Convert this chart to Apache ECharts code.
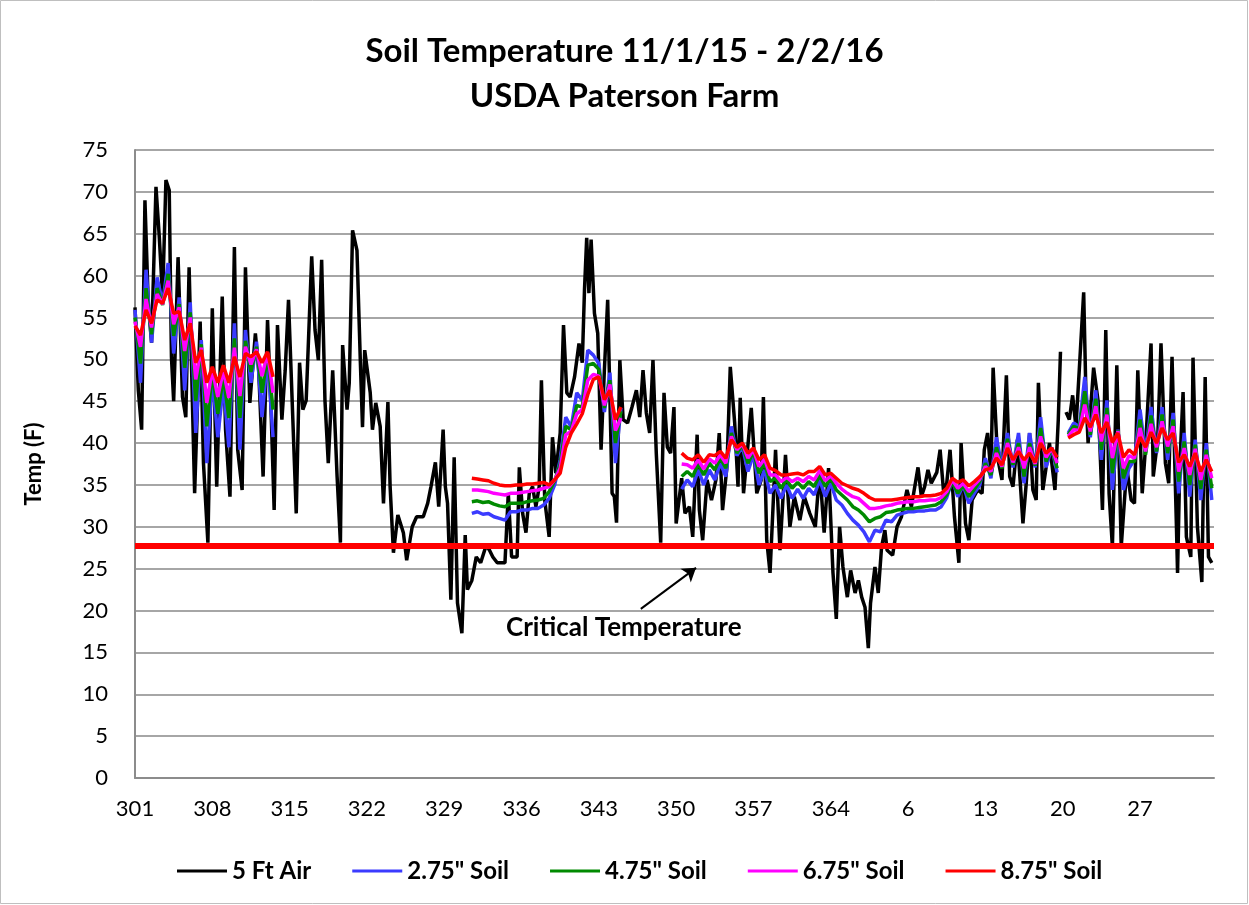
<!DOCTYPE html>
<html>
<head>
<meta charset="utf-8">
<script src="https://cdn.jsdelivr.net/npm/echarts@6/dist/echarts.min.js"></script>
<style>
  html, body { margin: 0; padding: 0; background: #fff; }
  #soil-chart { width: 1249px; height: 905px; }
</style>
</head>
<body>
<div id="soil-chart"></div>
<script>
// x values are days after day-of-year 301 (the axis wraps at 365)
const FIRST_DAY = 301;
const CRITICAL = 27.7;

const seriesNames = ['5 Ft Air', '2.75" Soil', '4.75" Soil', '6.75" Soil', '8.75" Soil'];
const seriesColors = ['#000000', '#3b3bff', '#008a00', '#ff00ff', '#ff0000'];

// 5 ft air temperature (null = logger gap)
const airDay = [
  0, 0.3, 0.6, 0.9, 1.2, 1.5, 1.9, 2.2, 2.5, 2.8, 3.1, 3.3, 3.5, 3.9, 4.3, 4.6, 4.9, 5.4, 5.9, 6.2,
  6.6, 7.0, 7.4, 7.9, 8.2, 8.6, 9.0, 9.3, 9.7, 10.0, 10.4, 10.9, 11.2, 11.6, 12.0, 12.3, 12.6, 12.9, 13.3, 13.6,
  13.9, 14.6, 14.9, 15.2, 15.5, 16.0, 16.3, 16.6, 16.9, 17.2, 17.5, 17.9, 18.3, 18.6, 18.8, 19.2, 19.4, 19.7, 20.1, 20.4,
  20.6, 20.8, 21.3, 21.5, 21.8, 22.2, 22.5, 22.9, 23.1, 23.4, 23.8, 24.3, 24.6, 25.1, 25.5, 26.1, 26.5, 26.8, 27.2, 27.5,
  27.9, 28.1, 28.3, 28.6, 28.9, 29.2, 29.6, 29.9, 30.1, 30.5, 30.9, 31.3, 31.8, 32.1, 32.4, 32.8, 33.5, 33.8, 34.1, 34.6,
  34.8, 35.1, 35.4, 35.7, 36.0, 36.3, 36.6, 36.8, 37.1, 37.5, 37.8, 38.1, 38.5, 38.8, 39.1, 39.4, 39.8, 40.2, 40.5, 40.7,
  40.9, 41.1, 41.3, 41.6, 41.9, 42.2, 42.5, 42.8, 43.2, 43.4, 43.6, 43.9, 44.2, 44.6, 45.0, 45.4, 45.7, 46.0, 46.3, 46.6,
  46.9, 47.2, 47.6, 47.9, 48.2, 48.5, 48.8, 49.0, 49.5, 49.8, 50.2, 50.5, 50.9, 51.1, 51.4, 51.8, 52.2, 52.6, 52.9, 53.2,
  53.6, 53.9, 54.3, 54.6, 54.8, 55.1, 55.4, 55.8, 56.3, 56.7, 56.9, 57.2, 57.5, 57.8, 58.0, 58.4, 58.9, 59.3, 59.7, 60.2,
  60.6, 61.1, 61.6, 62.0, 62.4, 62.8, 63.2, 63.5, 63.8, 64.1, 64.5, 64.8, 65.2, 65.5, 65.8, 66.1, 66.4, 66.6, 67.0, 67.3,
  67.6, 67.9, 68.1, 68.6, 69.0, 69.4, 69.9, 70.3, 70.9, 71.2, 71.5, 71.8, 72.1, 72.6, 72.9, 73.2, 73.5, 73.8, 74.2, 74.6,
  74.8, 75.2, 75.5, 75.8, 76.3, 76.7, 76.9, 77.2, 77.5, 77.7, 78.1, 78.5, 78.9, 79.2, 79.5, 79.9, 80.4, 80.7, 81.0, 81.3,
  81.6, 81.8, 82.2, 82.5, 82.8, 83.3, 83.6, 83.8, 84.0, 84.3, 84.6, 84.9, 85.2, 85.5, 85.9, 86.1, 86.3, 86.8, 87.2, 87.6,
  87.9, 88.2, 88.5, 88.9, 89.3, 89.8, 90.2, 90.5, 90.8, 91.2, 91.5, 92.0, 92.2, 92.6, 92.9, 93.3, 93.6, 93.9, 94.3, 94.4,
  94.6, 94.9, 95.2, 95.6, 95.8, 96.2, 96.6, 96.9, 97.2, 97.5
];
const airTemp = [
  56.2, 46.3, 41.6, 69.0, 56.7, 52.0, 70.6, 64.6, 57.4, 71.4, 70.2, 50.3, 45.0, 62.2, 45.5, 43.1, 61.0, 34.0, 54.5, 37.6,
  28.1, 56.1, 34.8, 57.5, 41.6, 33.6, 63.4, 39.2, 34.4, 61.0, 44.8, 53.1, 48.7, 36.0, 54.7, 44.8, 32.0, 54.1, 42.8, 48.7,
  57.1, 31.6, 49.6, 44.0, 45.1, 62.3, 53.5, 49.9, 61.9, 45.1, 37.6, 48.7, 36.0, 28.1, 51.7, 44.0, 47.2, 65.4, 63.0, 49.9,
  41.9, 51.1, 46.0, 41.6, 44.8, 42.0, 32.8, 44.9, 34.8, 26.9, 31.4, 29.3, 26.0, 30.0, 31.2, 31.2, 32.8, 34.8, 37.7, 32.4,
  41.6, 34.8, 32.8, 21.3, 38.3, 20.9, 17.3, 29.0, 22.5, 23.6, 26.4, 25.7, 27.8, 27.2, 26.4, 25.7, 25.7, 34.0, 26.4, 26.4,
  37.1, 31.6, 29.3, 34.0, 34.8, 32.4, 34.8, 47.5, 33.2, 28.8, 40.7, 36.4, 41.2, 54.1, 46.0, 45.5, 47.9, 51.9, 49.6, 58.3,
  64.5, 57.9, 64.3, 55.5, 53.1, 39.2, 48.7, 57.1, 34.0, 33.6, 30.5, 49.9, 42.8, 42.4, 44.3, 46.3, 43.1, 48.7, 43.6, 41.2,
  49.9, 38.8, 28.1, 46.0, 39.5, 38.8, 44.3, 30.4, 35.8, 31.6, 32.4, 28.8, 41.0, 32.0, 28.4, 35.6, 33.2, 35.6, 41.2, 32.0,
  37.2, 49.1, 42.4, 34.8, 45.4, 34.0, 38.3, 44.2, 34.0, 35.6, 45.5, 28.4, 24.5, 33.2, 39.2, 27.2, 38.6, 30.0, 33.6, 30.8,
  33.6, 31.6, 30.0, 36.8, 29.3, 37.0, 24.5, 19.0, 30.0, 25.2, 21.6, 24.8, 22.1, 23.6, 21.6, 20.4, 15.5, 20.9, 25.2, 22.1,
  27.6, 29.6, 27.2, 26.6, 30.0, 31.2, 34.4, 32.4, 37.1, 33.6, 34.8, 36.8, 35.2, 36.5, 39.2, 34.4, 35.2, 39.2, 31.2, 25.7,
  40.0, 30.4, 28.4, 33.2, 34.4, 34.0, 39.2, 41.2, 36.4, 49.0, 38.3, 35.6, 48.1, 36.0, 34.8, 40.4, 30.4, 35.2, 41.2, 34.4,
  33.2, 47.2, 34.4, 37.1, 40.0, 34.4, 42.8, 50.9, null, 43.7, 42.8, 45.7, 41.9, 48.7, 58.0, 46.0, 40.0, 49.0, 45.1, 32.0,
  53.5, 34.0, 27.6, 49.3, 27.6, 37.1, 33.2, 32.8, 48.7, 34.0, 39.5, 51.9, 36.0, 40.4, 51.9, 37.6, 35.2, 50.3, 30.0, 24.5,
  37.1, 46.1, 28.8, 26.4, 50.2, 30.0, 23.4, 47.9, 26.4, 25.7
];

// soil probes log in four stretches; each stretch starts at soilStart[k], one value every SOIL_STEP days
const SOIL_STEP = 0.5;
const soilStart = [0, 30.5, 49.5, 84.5];

const soil275 = [
  [55.9, 47.2, 60.7, 52.0, 59.8, 56.7, 61.5, 50.7, 57.4, 46.3, 56.8, 41.2, 52.3, 37.6, 47.9, 40.7, 47.0, 39.5, 54.3, 39.2,
   53.5, 47.2, 52.1, 43.1, 50.3, 40.7],
  [31.6, 31.8, 31.5, 31.6, 31.2, 31.0, 30.8, 31.8, 31.8, 32.0, 32.0, 32.2, 32.2, 32.6, 33.4, 35.0, 38.0, 43.1, 41.9, 46.0,
   45.1, 51.1, 50.5, 49.5, 43.7, 48.4, 37.6, 44.2],
  [34.5, 35.6, 34.8, 36.8, 35.0, 36.8, 35.6, 37.6, 36.0, 42.0, 38.5, 39.6, 36.6, 38.6, 35.0, 36.8, 34.0, 35.0, 33.4, 35.0,
   33.4, 34.5, 33.4, 34.6, 33.8, 35.6, 33.6, 35.2, 33.2, 32.6, 31.6, 30.8, 30.2, 29.4, 28.2, 29.6, 29.4, 30.8, 30.6, 31.4,
   31.6, 31.8, 31.8, 31.9, 31.9, 32.0, 32.0, 32.4, 33.5, 35.6, 33.6, 35.0, 32.8, 34.0, 35.0, 38.2, 35.8, 40.7, 37.1, 41.2,
   37.1, 41.2, 35.2, 41.2, 37.1, 43.1, 37.1, 39.5, 36.5],
  [41.2, 42.4, 41.9, 47.9, 40.7, 46.3, 38.0, 45.1, 34.4, 41.6, 34.4, 37.0, 38.0, 44.0, 38.8, 44.3, 38.8, 44.3, 38.0, 43.6,
   34.0, 41.2, 33.6, 40.4, 33.2, 40.0, 33.2]
];
const soil475 = [
  [55.0, 49.5, 58.5, 53.0, 58.5, 56.5, 60.2, 52.8, 56.6, 49.0, 55.6, 45.0, 51.8, 42.0, 48.5, 43.5, 48.0, 43.0, 52.5, 43.0,
   52.2, 48.5, 51.5, 46.0, 50.6, 44.0],
  [33.0, 33.1, 32.9, 33.0, 32.7, 32.5, 32.4, 32.8, 32.8, 32.8, 33.0, 33.1, 33.2, 33.4, 34.2, 35.5, 37.5, 42.0, 41.6, 44.5,
   44.3, 49.3, 49.5, 48.8, 44.2, 47.5, 40.0, 43.8],
  [36.0, 36.6, 36.0, 37.5, 36.2, 37.6, 36.8, 38.2, 37.0, 41.2, 38.8, 39.8, 37.6, 39.0, 36.4, 37.6, 35.4, 35.8, 34.6, 35.6,
   34.6, 35.3, 34.6, 35.4, 34.8, 36.2, 34.8, 35.8, 34.4, 33.8, 33.2, 32.4, 32.0, 31.4, 30.6, 31.0, 31.2, 31.7, 31.8, 32.0,
   32.1, 32.2, 32.2, 32.3, 32.4, 32.5, 32.6, 33.0, 33.8, 35.4, 34.0, 35.0, 33.6, 34.5, 35.4, 37.6, 36.2, 39.5, 37.0, 40.5,
   37.4, 40.0, 36.0, 40.0, 37.3, 41.8, 37.8, 39.4, 37.0],
  [41.0, 42.0, 41.7, 46.2, 41.0, 45.3, 39.2, 44.2, 36.4, 41.5, 35.8, 37.8, 37.8, 42.8, 38.6, 43.3, 39.0, 43.4, 38.8, 42.8,
   35.4, 40.2, 35.0, 39.8, 34.5, 39.2, 34.6]
];
const soil675 = [
  [54.5, 51.5, 57.2, 53.8, 57.8, 56.6, 59.4, 54.2, 56.2, 51.0, 55.0, 47.6, 51.4, 44.8, 48.8, 45.5, 48.7, 45.4, 51.4, 45.6,
   51.5, 49.4, 51.2, 48.0, 50.8, 46.0],
  [34.4, 34.4, 34.3, 34.2, 34.0, 33.9, 33.8, 34.0, 34.0, 34.1, 34.2, 34.3, 34.4, 34.6, 34.8, 35.6, 37.0, 41.0, 41.4, 43.5,
   44.0, 47.5, 48.2, 48.0, 44.5, 47.0, 41.5, 43.0],
  [37.5, 37.4, 37.0, 38.0, 36.9, 38.1, 37.6, 38.6, 37.6, 40.8, 39.2, 39.9, 38.2, 39.2, 37.2, 38.1, 36.2, 36.2, 35.4, 35.9,
   35.4, 35.8, 35.4, 36.0, 35.6, 36.7, 35.5, 36.1, 35.2, 34.5, 34.0, 33.6, 33.4, 32.8, 32.2, 32.2, 32.3, 32.5, 32.6, 32.8,
   32.9, 33.0, 33.0, 33.1, 33.1, 33.2, 33.2, 33.5, 34.2, 35.6, 34.6, 35.2, 34.2, 35.0, 35.7, 37.2, 36.6, 38.8, 37.2, 40.0,
   37.7, 39.5, 37.0, 39.5, 37.5, 40.8, 38.3, 39.4, 37.6],
  [40.8, 41.6, 41.5, 44.6, 41.4, 44.4, 40.2, 43.4, 38.2, 41.4, 37.0, 38.5, 38.2, 41.8, 39.0, 42.3, 39.5, 42.6, 39.6, 42.0,
   36.6, 39.4, 36.2, 39.3, 35.6, 38.6, 35.8]
];
const soil875 = [
  [54.0, 52.9, 55.9, 54.3, 57.1, 56.7, 58.5, 55.5, 55.7, 52.3, 54.3, 49.6, 51.1, 47.2, 49.1, 47.2, 49.3, 47.2, 50.3, 47.9,
   50.7, 50.3, 50.9, 49.6, 50.9, 47.9],
  [35.8, 35.7, 35.6, 35.5, 35.2, 35.0, 34.9, 34.9, 35.0, 35.0, 35.1, 35.1, 35.2, 35.3, 35.0, 35.6, 36.4, 39.5, 41.2, 42.3,
   43.5, 45.8, 47.6, 47.9, 45.2, 46.3, 42.8, 44.3],
  [38.8, 38.2, 38.0, 38.6, 37.7, 38.6, 38.5, 39.0, 38.2, 40.4, 39.5, 40.0, 38.8, 39.4, 38.0, 38.6, 37.0, 36.7, 36.2, 36.2,
   36.3, 36.4, 36.2, 36.6, 36.6, 37.2, 36.2, 36.4, 35.8, 35.2, 34.9, 34.6, 34.4, 34.0, 33.5, 33.2, 33.2, 33.2, 33.2, 33.3,
   33.4, 33.5, 33.6, 33.6, 33.7, 33.7, 33.8, 34.0, 34.6, 35.8, 35.3, 35.6, 34.9, 35.4, 36.0, 36.8, 37.0, 38.2, 37.4, 39.4,
   38.0, 39.0, 38.0, 38.8, 37.7, 40.0, 38.8, 39.4, 38.3],
  [40.6, 41.0, 41.3, 43.0, 41.9, 43.4, 41.2, 42.5, 40.1, 41.2, 38.3, 39.2, 38.6, 40.7, 39.5, 41.3, 40.0, 41.8, 40.4, 41.2,
   37.7, 38.6, 37.2, 38.8, 36.6, 38.0, 36.6]
];

// arrow of the "Critical Temperature" note, in [day, temp]
const arrowFrom = [45.8, 20.2];
const arrowTo = [50.8, 25.1];

function airData() {
  return airDay.map((d, i) => [d, airTemp[i] == null ? '-' : airTemp[i]]);
}

function soilData(segments) {
  const out = [];
  segments.forEach((seg, k) => {
    seg.forEach((v, j) => out.push([soilStart[k] + j * SOIL_STEP, v]));
    out.push([soilStart[k] + seg.length * SOIL_STEP, '-']); // break the line between stretches
  });
  return out;
}

function dayLabel(v) {
  let d = FIRST_DAY + Math.round(v);
  if (d > 365) d -= 365;
  return String(d);
}

const FONT = 'Lato';
const chart = echarts.init(document.getElementById('soil-chart'));

const lineSeries = [airData(), soilData(soil275), soilData(soil475), soilData(soil675), soilData(soil875)]
  .map((data, i) => ({
    name: seriesNames[i],
    type: 'line',
    data: data,
    showSymbol: false,
    connectNulls: false,
    animation: false,
    lineStyle: { color: seriesColors[i], width: 3.5 },
    itemStyle: { color: seriesColors[i] },
    z: 2 + i
  }));

const option = {
  backgroundColor: '#ffffff',
  animation: false,
  title: {
    text: 'Soil Temperature 11/1/15 - 2/2/16\nUSDA Paterson Farm',
    left: 'center',
    top: 24,
    textStyle: { fontFamily: FONT, fontSize: 33, fontWeight: 'bold', color: '#000', lineHeight: 45 }
  },
  legend: {
    data: seriesNames,
    left: 172,
    top: 854,
    icon: 'rect',
    itemWidth: 50,
    itemHeight: 3,
    itemGap: 41,
    textStyle: { fontFamily: FONT, fontSize: 24, fontWeight: 'bold', color: '#000' }
  },
  grid: { left: 135, right: 35, top: 150, bottom: 127 },
  xAxis: {
    type: 'value',
    min: 0,
    max: 97.7,
    interval: 7,
    axisLine: { show: true, lineStyle: { color: '#8c8c8c', width: 2 } },
    axisTick: { show: false },
    splitLine: { show: false },
    axisLabel: {
      formatter: dayLabel,
      showMaxLabel: false,
      margin: 20,
      fontFamily: FONT,
      fontSize: 22,
      color: '#000'
    }
  },
  yAxis: {
    type: 'value',
    min: 0,
    max: 75,
    interval: 5,
    name: 'Temp (F)',
    nameLocation: 'middle',
    nameGap: 90,
    nameTextStyle: { fontFamily: FONT, fontSize: 22, fontWeight: 'bold', color: '#000' },
    axisLine: { show: true, lineStyle: { color: '#8c8c8c', width: 2 } },
    axisTick: { show: false },
    splitLine: { show: true, lineStyle: { color: '#a6a6a6', width: 2 } },
    axisLabel: { margin: 27, fontFamily: FONT, fontSize: 22, color: '#000' }
  },
  graphic: [
    {
      type: 'rect',
      shape: { x: 0.5, y: 0.5, width: 1247, height: 903 },
      style: { fill: 'none', stroke: '#bfbfbf', lineWidth: 1 },
      silent: true
    },
    {
      type: 'text',
      left: 506,
      top: 615,
      style: { text: 'Critical Temperature', font: 'bold 26px Lato', fill: '#000' },
      silent: true
    }
  ],
  series: [
    ...lineSeries,
    {
      name: 'critical',
      type: 'line',
      data: [],
      z: 10,
      markLine: {
        silent: true,
        animation: false,
        symbol: 'none',
        label: { show: false },
        lineStyle: { color: '#ff0000', width: 6, type: 'solid' },
        data: [{ yAxis: CRITICAL }]
      }
    },
    {
      name: 'note',
      type: 'line',
      data: [],
      z: 10,
      markLine: {
        silent: true,
        animation: false,
        symbol: ['none', 'arrow'],
        symbolSize: 13,
        label: { show: false },
        lineStyle: { color: '#000', width: 2, type: 'solid' },
        data: [[{ coord: arrowFrom }, { coord: arrowTo }]]
      }
    }
  ]
};

chart.setOption(option);
</script>
</body>
</html>
